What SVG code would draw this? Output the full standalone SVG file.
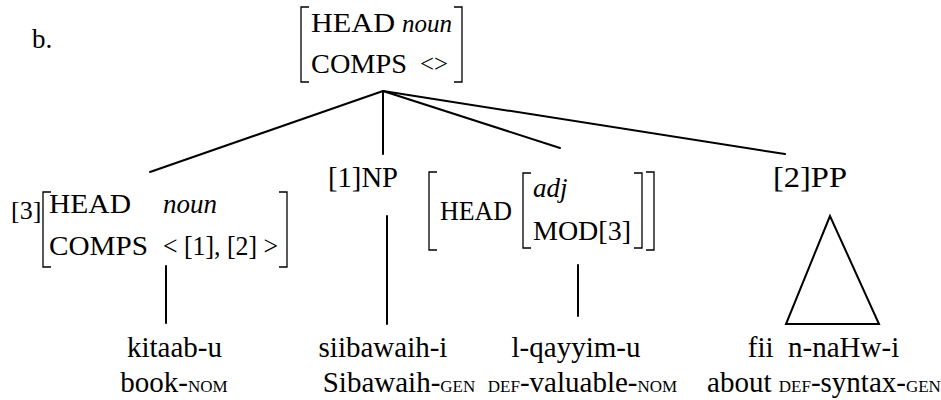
<svg xmlns="http://www.w3.org/2000/svg" width="941" height="400" viewBox="0 0 941 400">
<style>
text { font-family: "Liberation Serif", "Times New Roman", "DejaVu Serif", serif; fill: #000; }
.it { font-style: italic; }
.sc { font-size: 17px; }
.br { fill: none; stroke: #000; stroke-width: 1.3; }
.ln { fill: none; stroke: #000; stroke-width: 2; stroke-linecap: round; }
.pre { white-space: pre; }
</style>
<rect width="941" height="400" fill="#fff"/>
<text x="32" y="48" font-size="27">b.</text>
<g id="connectors">
  <line class="ln" x1="383" y1="91" x2="150" y2="172"/>
  <line class="ln" x1="383" y1="91" x2="383" y2="154"/>
  <line class="ln" x1="383" y1="91" x2="560" y2="148"/>
  <line class="ln" x1="383" y1="91" x2="785" y2="154"/>
  <line class="ln" x1="166" y1="266" x2="166" y2="323"/>
  <line class="ln" x1="387" y1="216" x2="387" y2="324"/>
  <line class="ln" x1="578" y1="265" x2="578" y2="316"/>
  <polygon class="ln" points="830,216 786,324 879,324" stroke-linejoin="miter"/>
</g>
<g id="root">
  <path class="br" d="M309,7 H301 V82 H309"/>
  <path class="br" d="M454,7 H462 V82 H454"/>
  <text x="311" y="32" font-size="28" textLength="84" lengthAdjust="spacingAndGlyphs">HEAD</text>
  <text class="it" x="402" y="32" font-size="25">noun</text>
  <text x="311" y="73" font-size="28" textLength="96" lengthAdjust="spacingAndGlyphs">COMPS</text>
  <text x="420" y="72" font-size="25" textLength="28" lengthAdjust="spacingAndGlyphs">&lt;&gt;</text>
</g>
<g id="n3">
  <text x="11" y="219" font-size="26">[3]</text>
  <path class="br" d="M51,192 H43 V267 H51"/>
  <path class="br" d="M279,192 H287 V267 H279"/>
  <text x="49" y="213" font-size="28" textLength="82" lengthAdjust="spacingAndGlyphs">HEAD</text>
  <text class="it" x="163" y="213" font-size="27">noun</text>
  <text x="49" y="255" font-size="28" textLength="99" lengthAdjust="spacingAndGlyphs">COMPS</text>
  <text x="163" y="255" font-size="27" textLength="115" lengthAdjust="spacingAndGlyphs">&lt; [1], [2] &gt;</text>
</g>
<g id="np1">
  <text x="328" y="187" font-size="29" textLength="70" lengthAdjust="spacingAndGlyphs">[1]NP</text>
</g>
<g id="adjnode">
  <path class="br" d="M437,172 H429 V250 H437"/>
  <path class="br" d="M646,172 H654 V250 H646"/>
  <path class="br" d="M531,173 H523 V248 H531"/>
  <path class="br" d="M634,173 H642 V248 H634"/>
  <text x="440" y="220" font-size="28" textLength="72" lengthAdjust="spacingAndGlyphs">HEAD</text>
  <text class="it" x="533" y="197" font-size="27">adj</text>
  <text x="533" y="240" font-size="28" textLength="98" lengthAdjust="spacingAndGlyphs">MOD[3]</text>
</g>
<g id="pp2">
  <text x="773" y="187" font-size="29" textLength="74" lengthAdjust="spacingAndGlyphs">[2]PP</text>
</g>
<g id="w1">
  <text x="174.5" y="357" font-size="29" text-anchor="middle">kitaab-u</text>
  <text x="174" y="392" font-size="29" text-anchor="middle">book-<tspan class="sc">NOM</tspan></text>
</g>
<g id="w2">
  <text x="383" y="357" font-size="29" text-anchor="middle">siibawaih-i</text>
  <text x="399" y="392" font-size="29" text-anchor="middle">Sibawaih-<tspan class="sc">GEN</tspan></text>
</g>
<g id="w3">
  <text x="576" y="357" font-size="29" text-anchor="middle">l-qayyim-u</text>
  <text x="582.5" y="392" font-size="29" text-anchor="middle"><tspan class="sc">DEF</tspan>-valuable-<tspan class="sc">NOM</tspan></text>
</g>
<g id="w4">
  <text class="pre" x="823.5" y="357" font-size="29" text-anchor="middle" xml:space="preserve">fii  n-naHw-i</text>
  <text class="pre" x="824" y="392" font-size="29" text-anchor="middle" xml:space="preserve">about <tspan class="sc">DEF</tspan>-syntax-<tspan class="sc">GEN</tspan></text>
</g>
</svg>
